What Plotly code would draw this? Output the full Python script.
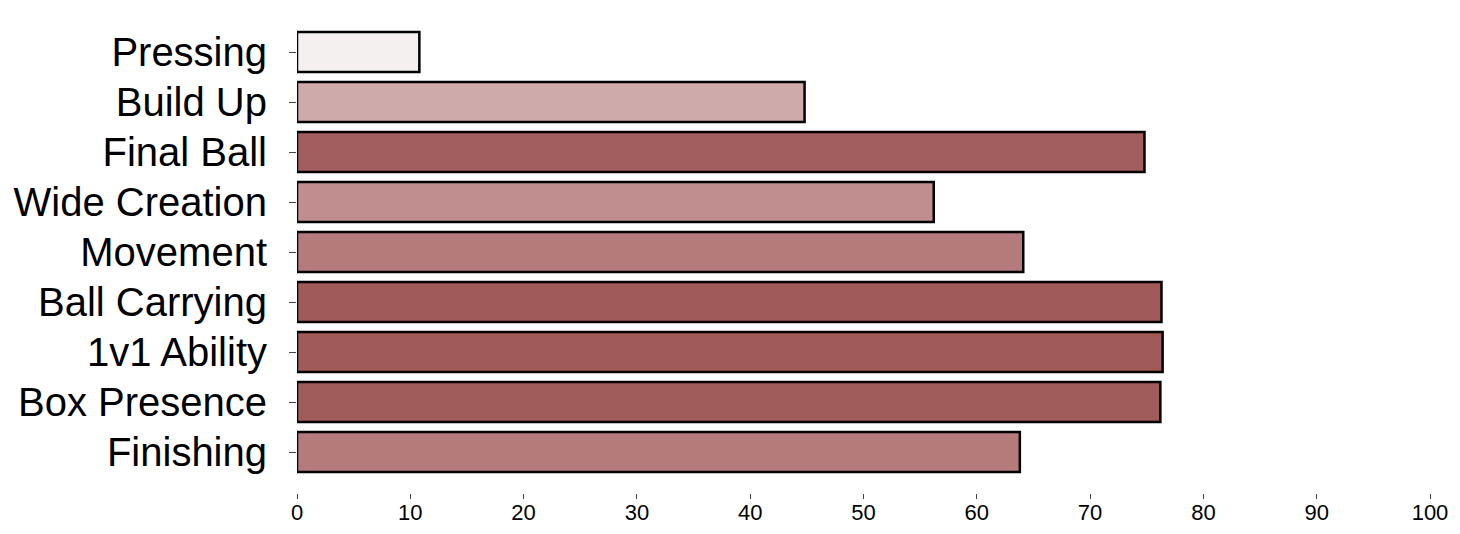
import plotly.graph_objects as go

# attribute scores, top to bottom
attributes = ["Pressing", "Build Up", "Final Ball", "Wide Creation", "Movement",
              "Ball Carrying", "1v1 Ability", "Box Presence", "Finishing"]
scores = [10.8, 44.8, 74.8, 56.2, 64.1, 76.3, 76.4, 76.2, 63.8]
x_ticks = [0, 10, 20, 30, 40, 50, 60, 70, 80, 90, 100]

# light -> dark red scale, shade follows the score
red_scale = [
    [0.0, "#f5f0f0"],
    [0.52, "#cfaaaa"],
    [0.69, "#c08e8e"],
    [0.81, "#b57a7a"],
    [0.97, "#a35f5f"],
    [1.0, "#a05a5a"],
]

fig = go.Figure(go.Bar(
    x=scores,
    y=attributes,
    orientation="h",
    marker=dict(
        color=scores,
        colorscale=red_scale,
        cmin=min(scores),
        cmax=max(scores),
        line=dict(color="black", width=2.5),
    ),
    width=0.8,
))

# page body adds 8px, so the figure is a bit smaller than the window
fig.update_layout(
    width=1452,
    height=526,
    margin=dict(l=289, r=30, t=19, b=41, autoexpand=False),
    plot_bgcolor="white",
    paper_bgcolor="white",
    showlegend=False,
    font=dict(family="Liberation Sans, Arial, sans-serif", color="black"),
)

fig.update_xaxes(
    range=[0, 100],
    tickvals=x_ticks,
    showgrid=False,
    zeroline=False,
    showline=False,
    ticks="outside",
    ticklen=5,
    tickcolor="#444444",
    tickfont=dict(size=22),
    ticklabelstandoff=-5,
    automargin=False,
)

fig.update_yaxes(
    categoryorder="array",
    categoryarray=attributes,
    range=[8.82, -0.5],
    showgrid=False,
    zeroline=False,
    showline=False,
    ticks="outside",
    ticklen=7,
    tickcolor="#444444",
    tickfont=dict(size=40),
    ticklabelstandoff=14,
    automargin=False,
)

fig.write_html("out.html")
